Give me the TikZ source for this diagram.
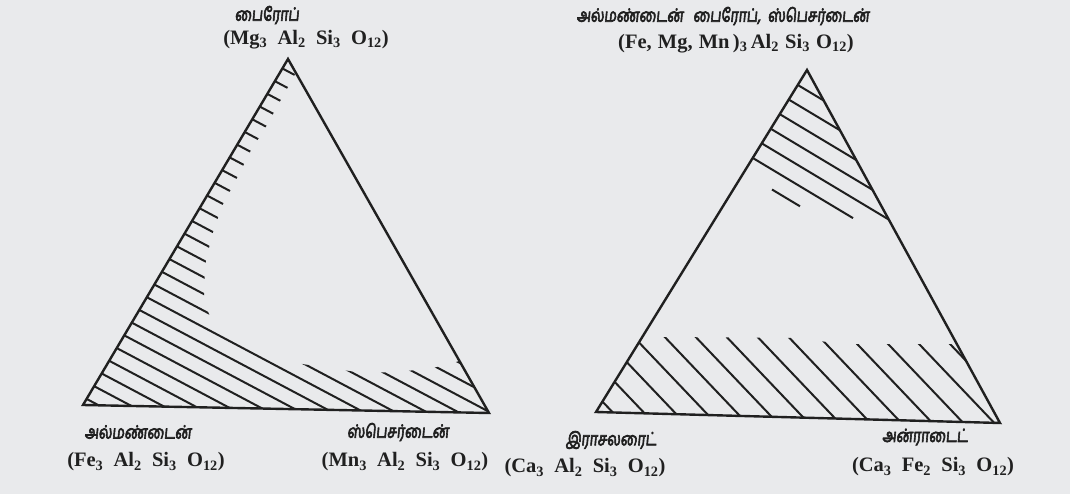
\documentclass[tikz,border=0pt]{standalone}
\usepackage{graphicx}
\usepackage{fontspec}
\setmainfont{Liberation Serif}
\newfontfamily\tamil[Script=Tamil,FakeBold=4,FakeSlant=0.12]{Hind Madurai}
\definecolor{bg}{RGB}{233,234,236}
\definecolor{ink}{RGB}{32,32,32}
\newcommand\gp{\hspace{0.5em}}
\newcommand\gq{\hspace{0.3em}}
\newcommand\sbs[1]{\textsubscript{#1}}
\newcommand\tm[1]{\scalebox{1}[1.3]{#1}}
\begin{document}
\begin{tikzpicture}[x=1pt,y=-1pt,
  edge/.style={draw=ink,line width=2.4pt,line join=miter},
  hatch/.style={draw=ink,line width=2pt},
  tam/.style={text=ink,font=\tamil\fontsize{14}{16}\selectfont,inner sep=0pt},
  frm/.style={text=ink,font=\bfseries\fontsize{20.5}{24}\selectfont,inner sep=0pt}]
\fill[bg] (0,0) rectangle (1070,494);
\useasboundingbox (0,0) rectangle (1070,494);

% ---------- left triangle ----------
\coordinate (LA) at (288,59);
\coordinate (LB) at (83,405);
\coordinate (LC) at (489,413);
\begin{scope}
\clip (288,59) -- (83,405) -- (489,413) -- (459,361) -- (447,365) -- (427,369) -- (395,372) -- (363,373) -- (315,366) -- (277,360) -- (250,348) -- (214,326) -- (204,302) -- (205,265) -- (212,235) -- (222,206) -- (238,176) -- (250,152) -- (267,125) -- (283,96) -- (293,78) -- (296,72) -- cycle;
\foreach \k in {-2,...,28}{
  \pgfmathsetmacro\cc{353-16.7*\k}
  \draw[hatch] (0,\cc) -- (600,\cc+318);
}
\end{scope}
\draw[edge] (LA) -- (LB) -- (LC) -- cycle;

% ---------- right triangle ----------
\coordinate (RA) at (807,70);
\coordinate (RB) at (596,412);
\coordinate (RC) at (1000,423);
\begin{scope}
\clip (RA) -- (RB) -- (RC) -- cycle;
\foreach \k in {0,...,4}{
  \pgfmathsetmacro\cc{-393.7+20*\k}
  \draw[hatch] (700,420+\cc) -- (950,570+\cc);
}
\draw[hatch] (700,420-293.7) -- (853,511.8-293.7);
\end{scope}
\draw[hatch] (772,189.5) -- (800,206.3);
\begin{scope}
\clip (640,342) -- (662,337) -- (800,338) -- (840,344) -- (958,344) -- (RC) -- (RB) -- cycle;
\foreach \j in {-13,...,3}{
  \pgfmathsetmacro\cc{-296+32.5*\j}
  \draw[hatch] (550,577.5+\cc) -- (1050,1102.5+\cc);
}
\end{scope}
\draw[edge] (RA) -- (RB) -- (RC) -- cycle;

% ---------- labels ----------
\node[tam] (t1) at (267,15) {\tm{பைரோப்}};
\node[frm] (f1) at (306,40) {(Mg\sbs{3}\gp Al\sbs{2}\gp Si\sbs{3}\gp O\sbs{12})};
\node[tam] (t2) at (138,432) {\tm{அல்மண்டைன்}};
\node[frm] (f2) at (146,462) {(Fe\sbs{3}\gp Al\sbs{2}\gp Si\sbs{3}\gp O\sbs{12})};
\node[tam] (t3) at (398,432) {\tm{ஸ்பெசர்டைன்}};
\node[frm] (f3) at (405,462) {(Mn\sbs{3}\gp Al\sbs{2}\gp Si\sbs{3}\gp O\sbs{12})};
\node[tam] (t4) at (723,16) {\tm{அல்மண்டைன்\hspace{0.7em}பைரோப்,\hspace{0.5em}ஸ்பெசர்டைன்}};
\node[frm] (f4) at (736,44) {(Fe,\gq Mg,\gq Mn\,)\sbs{3}\,Al\sbs{2}\gq Si\sbs{3}\gq O\sbs{12})};
\node[tam] (t5) at (611,440) {\tm{இராசலரைட்}};
\node[frm] (f5) at (585,468) {(Ca\sbs{3}\gp Al\sbs{2}\gp Si\sbs{3}\gp O\sbs{12})};
\node[tam] (t6) at (925,437) {\tm{அன்ராடைட்}};
\node[frm] (f6) at (933,467) {(Ca\sbs{3}\gp Fe\sbs{2}\gp Si\sbs{3}\gp O\sbs{12})};
\end{tikzpicture}
\end{document}
